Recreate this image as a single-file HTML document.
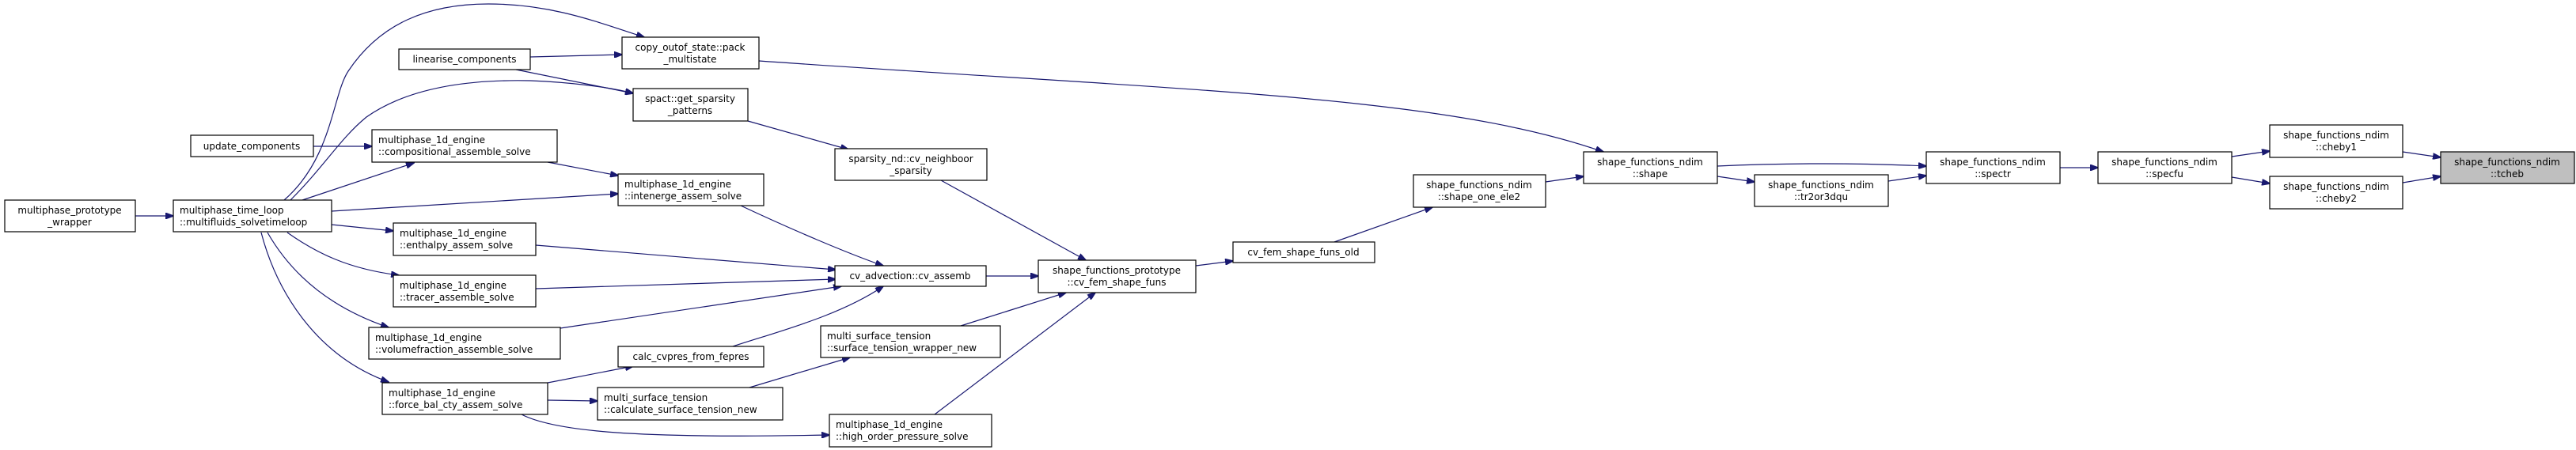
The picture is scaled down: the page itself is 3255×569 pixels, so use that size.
<!DOCTYPE html>
<html><head><meta charset="utf-8"><style>
html,body{margin:0;padding:0;background:#fff;}
svg{display:block;}
text{font-family:"DejaVu Sans","Liberation Sans",sans-serif;font-size:12px;fill:#000;}
</style></head><body>
<svg width="3255" height="569" viewBox="0 0 3255 569" xmlns="http://www.w3.org/2000/svg">
<defs>
<marker id="a" markerWidth="11" markerHeight="8" refX="10" refY="4" orient="auto" markerUnits="userSpaceOnUse">
<path d="M0,0 L11,4 L0,8 z" fill="#191970" stroke="#191970"/>
</marker>
</defs>
<g fill="none" stroke="#191970" stroke-width="1.2" marker-end="url(#a)">
<path d="M170,273 L219,273"/>
<path d="M359,253 C420,200 420,120 440,90 C480,30 540,5 617,5 C700,5 760,30 814,47"/>
<path d="M367,253 C410,210 430,175 463,148 C510,115 580,100 670,102 C720,104 770,110 800,118"/>
<path d="M382,253 L523,206"/>
<path d="M419,267 L781,245"/>
<path d="M419,284 L497,292"/>
<path d="M363,294 C400,320 440,340 504,348"/>
<path d="M338,294 C370,350 420,390 491,414"/>
<path d="M330,294 C350,370 400,450 491,483"/>
<path d="M396,185 L470,185"/>
<path d="M670,72 L786,69"/>
<path d="M652,88 L800,118"/>
<path d="M959,77 C1500,115 1820,120 2026,192"/>
<path d="M945,153 L1072,189"/>
<path d="M692,205 L781,222"/>
<path d="M936,260 C1000,290 1070,320 1116,336"/>
<path d="M677,310 L1056,341"/>
<path d="M677,365 L1056,353"/>
<path d="M708,415 L1063,362"/>
<path d="M926,438 C980,420 1060,400 1116,362"/>
<path d="M692,484 L800,463"/>
<path d="M692,506 L755,507"/>
<path d="M659,524 C700,545 800,555 1048,550"/>
<path d="M947,490 L1074,452"/>
<path d="M1189,228 L1372,329"/>
<path d="M1246,349 L1312,349"/>
<path d="M1214,412 L1347,370"/>
<path d="M1181,524 L1384,370"/>
<path d="M1511,336 L1558,330"/>
<path d="M1686,306 L1810,262"/>
<path d="M1953,230 L2001,223"/>
<path d="M2170,210 C2260,206 2350,206 2434,210"/>
<path d="M2170,223 L2217,230"/>
<path d="M2386,229 L2434,222"/>
<path d="M2603,212 L2651,212"/>
<path d="M2820,198 L2868,191"/>
<path d="M2820,224 L2868,232"/>
<path d="M3036,192 L3084,199"/>
<path d="M3036,231 L3084,223"/>
</g>
<g stroke="#000" stroke-width="1.2" fill="#fff">
<rect x="6" y="253" width="165" height="40"/>
<rect x="219" y="253" width="200" height="40"/>
<rect x="241" y="171" width="155" height="27"/>
<rect x="504" y="62" width="166" height="26"/>
<rect x="786" y="47" width="173" height="40"/>
<rect x="800" y="112" width="145" height="41"/>
<rect x="470" y="164" width="234" height="41"/>
<rect x="781" y="220" width="184" height="40"/>
<rect x="497" y="282" width="180" height="41"/>
<rect x="497" y="348" width="180" height="40"/>
<rect x="466" y="414" width="242" height="40"/>
<rect x="781" y="438" width="184" height="26"/>
<rect x="483" y="484" width="209" height="40"/>
<rect x="755" y="490" width="234" height="41"/>
<rect x="1055" y="188" width="192" height="40"/>
<rect x="1055" y="336" width="191" height="26"/>
<rect x="1312" y="329" width="199" height="41"/>
<rect x="1558" y="306" width="179" height="26"/>
<rect x="1786" y="221" width="167" height="41"/>
<rect x="1037" y="412" width="227" height="40"/>
<rect x="1048" y="524" width="205" height="41"/>
<rect x="2001" y="192" width="169" height="40"/>
<rect x="2217" y="221" width="169" height="40"/>
<rect x="2434" y="192" width="169" height="40"/>
<rect x="2651" y="192" width="169" height="40"/>
<rect x="2868" y="158" width="168" height="41"/>
<rect x="2868" y="223" width="168" height="41"/>
<rect x="3084" y="192" width="169" height="40" fill="#bfbfbf"/>
</g>
<g>
<text x="88" y="270" text-anchor="middle">multiphase_prototype</text><text x="88" y="285" text-anchor="middle">_wrapper</text>
<text x="227" y="270">multiphase_time_loop</text><text x="227" y="285">::multifluids_solvetimeloop</text>
<text x="318" y="189" text-anchor="middle">update_components</text>
<text x="587" y="79" text-anchor="middle">linearise_components</text>
<text x="872" y="64" text-anchor="middle">copy_outof_state::pack</text><text x="872" y="79" text-anchor="middle">_multistate</text>
<text x="872" y="129" text-anchor="middle">spact::get_sparsity</text><text x="872" y="144" text-anchor="middle">_patterns</text>
<text x="478" y="181">multiphase_1d_engine</text><text x="478" y="196">::compositional_assemble_solve</text>
<text x="789" y="237">multiphase_1d_engine</text><text x="789" y="252">::intenerge_assem_solve</text>
<text x="505" y="299">multiphase_1d_engine</text><text x="505" y="314">::enthalpy_assem_solve</text>
<text x="505" y="365">multiphase_1d_engine</text><text x="505" y="380">::tracer_assemble_solve</text>
<text x="474" y="431">multiphase_1d_engine</text><text x="474" y="446">::volumefraction_assemble_solve</text>
<text x="873" y="455" text-anchor="middle">calc_cvpres_from_fepres</text>
<text x="491" y="501">multiphase_1d_engine</text><text x="491" y="516">::force_bal_cty_assem_solve</text>
<text x="763" y="507">multi_surface_tension</text><text x="763" y="522">::calculate_surface_tension_new</text>
<text x="1151" y="205" text-anchor="middle">sparsity_nd::cv_neighboor</text><text x="1151" y="220" text-anchor="middle">_sparsity</text>
<text x="1150" y="353" text-anchor="middle">cv_advection::cv_assemb</text>
<text x="1411" y="346" text-anchor="middle">shape_functions_prototype</text><text x="1411" y="361" text-anchor="middle">::cv_fem_shape_funs</text>
<text x="1647" y="323" text-anchor="middle">cv_fem_shape_funs_old</text>
<text x="1869" y="238" text-anchor="middle">shape_functions_ndim</text><text x="1869" y="253" text-anchor="middle">::shape_one_ele2</text>
<text x="1045" y="429">multi_surface_tension</text><text x="1045" y="444">::surface_tension_wrapper_new</text>
<text x="1056" y="541">multiphase_1d_engine</text><text x="1056" y="556">::high_order_pressure_solve</text>
<text x="2085" y="209" text-anchor="middle">shape_functions_ndim</text><text x="2085" y="224" text-anchor="middle">::shape</text>
<text x="2301" y="238" text-anchor="middle">shape_functions_ndim</text><text x="2301" y="253" text-anchor="middle">::tr2or3dqu</text>
<text x="2518" y="209" text-anchor="middle">shape_functions_ndim</text><text x="2518" y="224" text-anchor="middle">::spectr</text>
<text x="2735" y="209" text-anchor="middle">shape_functions_ndim</text><text x="2735" y="224" text-anchor="middle">::specfu</text>
<text x="2952" y="175" text-anchor="middle">shape_functions_ndim</text><text x="2952" y="190" text-anchor="middle">::cheby1</text>
<text x="2952" y="240" text-anchor="middle">shape_functions_ndim</text><text x="2952" y="255" text-anchor="middle">::cheby2</text>
<text x="3168" y="209" text-anchor="middle">shape_functions_ndim</text><text x="3168" y="224" text-anchor="middle">::tcheb</text>
</g>
</svg>
</body></html>
